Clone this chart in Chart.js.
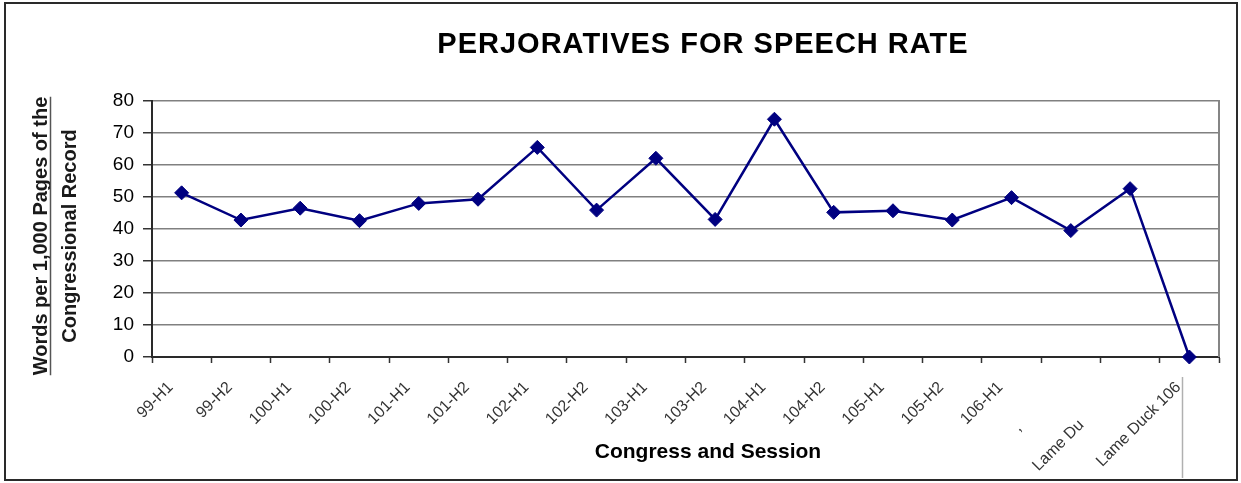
<!DOCTYPE html>
<html>
<head>
<meta charset="utf-8">
<title>Perjoratives for Speech Rate</title>
<script src="https://cdn.jsdelivr.net/npm/chart.js@4.4.1/dist/chart.umd.min.js"></script>
<style>
  html, body { margin: 0; padding: 0; background: #ffffff; }
  canvas { display: block; }
</style>
</head>
<body>
<canvas id="chart" width="1241" height="483"></canvas>
<script>
// Congress sessions (category labels as printed under the axis)
const sessions = [
  "99-H1", "99-H2", "100-H1", "100-H2", "101-H1", "101-H2",
  "102-H1", "102-H2", "103-H1", "103-H2", "104-H1", "104-H2",
  "105-H1", "105-H2", "106-H1",
  ",             ",
  "Lame Du            ",
  "Lame Duck 106"
];

// Words per 1,000 pages of the Congressional Record
const rates = [
  51.3, 42.8, 46.5, 42.6, 48.0, 49.3,
  65.5, 45.9, 62.1, 43.0, 74.3, 45.2,
  45.7, 42.8, 49.8, 39.5, 52.6, 0
];

// Value-axis range and step
const yMin = 0;
const yMax = 80;
const yStep = 10;

const titleText = "PERJORATIVES FOR SPEECH RATE";
const xTitleText = "Congress and Session";
const yTitleLines = ["Words per 1,000 Pages of the", "Congressional Record"];

const FONT = "'Liberation Sans', Arial, Helvetica, sans-serif";

// Frame, titles and plot border drawn straight onto the canvas
const decorations = {
  id: 'decorations',
  beforeDraw(chart) {
    const ctx = chart.ctx;
    ctx.save();
    ctx.fillStyle = '#ffffff';
    ctx.fillRect(0, 0, chart.width, chart.height);
    ctx.restore();
  },
  afterDraw(chart) {
    const ctx = chart.ctx;
    const area = chart.chartArea;
    ctx.save();

    // outer frame
    ctx.strokeStyle = '#2a2a2a';
    ctx.lineWidth = 2;
    ctx.strokeRect(5, 3, 1232, 477);

    // plot-area right edge
    ctx.strokeStyle = '#858585';
    ctx.lineWidth = 2;
    ctx.beginPath();
    ctx.moveTo(area.right, area.top - 1);
    ctx.lineTo(area.right, area.bottom);
    ctx.stroke();

    // thin separator beside the last category label
    ctx.strokeStyle = '#b0b0b0';
    ctx.lineWidth = 1.5;
    ctx.beginPath();
    ctx.moveTo(1182.5, 377);
    ctx.lineTo(1182.5, 478);
    ctx.stroke();

    // chart title
    ctx.fillStyle = '#000000';
    ctx.font = "bold 29px " + FONT;
    ctx.textAlign = 'center';
    ctx.textBaseline = 'middle';
    if ('letterSpacing' in ctx) ctx.letterSpacing = '1px';
    ctx.fillText(titleText, 703, 45);
    if ('letterSpacing' in ctx) ctx.letterSpacing = '0px';

    // x-axis title
    ctx.font = "bold 21px " + FONT;
    ctx.fillText(xTitleText, 708, 452);

    // y-axis title, two rotated lines, first one underlined
    ctx.font = "bold 20px " + FONT;
    ctx.translate(0, 236);
    ctx.rotate(-Math.PI / 2);
    ctx.textBaseline = 'alphabetic';
    ctx.fillStyle = '#1a1a1a';
    ctx.fillText(yTitleLines[0], 0, 47);
    ctx.fillText(yTitleLines[1], 0, 76);
    const w0 = ctx.measureText(yTitleLines[0]).width;
    ctx.strokeStyle = '#555555';
    ctx.lineWidth = 1.5;
    ctx.beginPath();
    ctx.moveTo(-w0 / 2, 50.5);
    ctx.lineTo(w0 / 2, 50.5);
    ctx.stroke();

    ctx.restore();
  }
};

new Chart(document.getElementById('chart'), {
  type: 'line',
  data: {
    labels: sessions,
    datasets: [{
      data: rates,
      borderColor: '#000080',
      backgroundColor: '#000080',
      borderWidth: 2.5,
      tension: 0,
      pointStyle: 'rectRot',
      pointRadius: 7,
      pointHoverRadius: 7,
      pointBorderWidth: 1,
      pointBackgroundColor: '#000080',
      pointBorderColor: '#000080',
      clip: false
    }]
  },
  options: {
    responsive: false,
    animation: false,
    devicePixelRatio: 1,
    layout: { padding: { top: 101, right: 22, left: 0, bottom: 0 } },
    plugins: {
      legend: { display: false },
      title: { display: false },
      tooltip: { enabled: false }
    },
    scales: {
      x: {
        type: 'category',
        offset: true,
        grid: {
          offset: true,
          drawOnChartArea: false,
          drawTicks: true,
          tickLength: 6,
          tickColor: '#333333',
          tickWidth: 1.5
        },
        border: { color: '#2a2a2a', width: 2 },
        ticks: {
          autoSkip: false,
          maxRotation: 45,
          minRotation: 45,
          padding: 15,
          labelOffset: -11,
          color: '#333333',
          font: { family: FONT, size: 16 }
        },
        afterFit(scale) { scale.height = 126; }
      },
      y: {
        min: yMin,
        max: yMax,
        ticks: {
          stepSize: yStep,
          padding: 9,
          color: '#000000',
          font: { family: FONT, size: 19 }
        },
        grid: {
          color: '#808080',
          lineWidth: 1.5,
          tickLength: 9,
          tickColor: '#333333',
          tickWidth: 1.5
        },
        border: { color: '#2a2a2a', width: 2 },
        afterFit(scale) { scale.width = 152; }
      }
    }
  },
  plugins: [decorations]
});
</script>
</body>
</html>
